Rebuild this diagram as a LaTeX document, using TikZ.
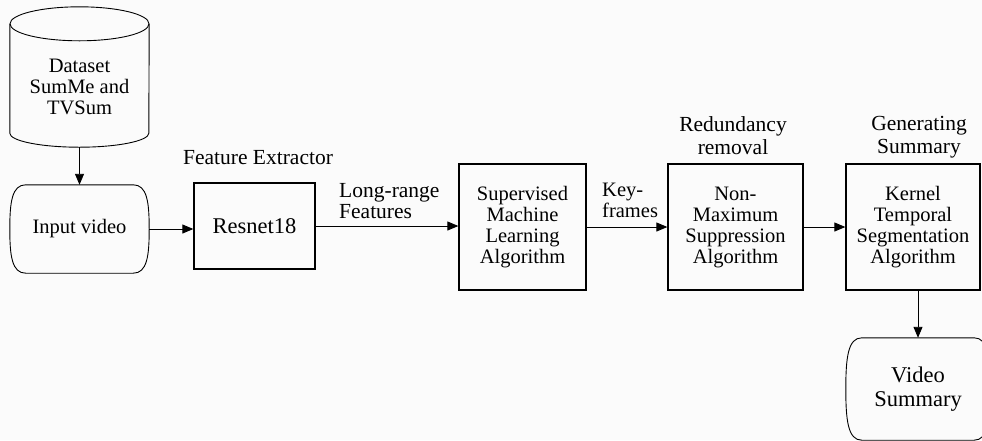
\documentclass[tikz,border=0pt]{standalone}
\usepackage{fontspec}
\setmainfont{Liberation Serif}
\usetikzlibrary{arrows.meta,calc}
\newcommand\termoutline[1]{\draw[outl]
  ([xshift=16pt]#1.north west) -- ([xshift=-16pt]#1.north east)
  .. controls ([xshift=-2pt]#1.north east) and ($(#1.east)!0.6!(#1.north east)$) .. (#1.east)
  .. controls ($(#1.east)!0.6!(#1.south east)$) and ([xshift=-2pt]#1.south east) .. ([xshift=-16pt]#1.south east)
  -- ([xshift=16pt]#1.south west)
  .. controls ([xshift=2pt]#1.south west) and ($(#1.west)!0.6!(#1.south west)$) .. (#1.west)
  .. controls ($(#1.west)!0.6!(#1.north west)$) and ([xshift=2pt]#1.north west) .. cycle;}
\begin{document}
\begin{tikzpicture}[x=1pt,y=-1pt,
  lbl/.style={font=\fontsize{20.5}{21}\selectfont, align=center, inner sep=0pt},
  boxn/.style={draw, line width=1.3pt, align=center, font=\fontsize{20.5}{21}\selectfont, inner sep=0pt},
  arr/.style={-{Triangle[length=11pt,width=9pt]}, line width=0.9pt},
  outl/.style={line width=0.9pt}]
\useasboundingbox (0,0) rectangle (982,440);
\fill[gray!3] (0,0) rectangle (982,440);
\clip (0,0) rectangle (982,440);

% dataset cylinder
\node[lbl, minimum width=139pt, minimum height=120pt] (ds) at (79.5,87) {Dataset\\SumMe and\\TVSum};
\draw[outl] ([yshift=3pt]ds.north) ellipse [x radius=69.5pt, y radius=17pt];
\draw[outl] ([yshift=3pt]ds.north west) -- ([yshift=14pt]ds.south west)
  arc[start angle=180, end angle=360, x radius=69.5pt, y radius=14pt]
  -- ([yshift=3pt]ds.north east);

% input video
\node[lbl, minimum width=139pt, minimum height=88pt] (iv) at (79.5,229) {Input video};
\termoutline{iv}

% resnet
\node[boxn, minimum width=121pt, minimum height=86pt, font=\fontsize{22.5}{24}\selectfont] (rn) at (254.5,226) {Resnet18};
\node[lbl, font=\fontsize{21.5}{22}\selectfont] (fe) at (258,158) {Feature Extractor};

% supervised
\node[boxn, minimum width=127pt, minimum height=126pt] (sml) at (522.5,227) {Supervised\\Machine\\Learning\\Algorithm};
\node[lbl, align=left, anchor=west, font=\fontsize{21.5}{21}\selectfont] (lrf) at (339,201) {Long-range\\Features};

% nms
\node[boxn, minimum width=135pt, minimum height=126pt] (nms) at (735.5,227) {Non-\\Maximum\\Suppression\\Algorithm};
\node[lbl, align=left, anchor=west] (kf) at (602,200) {Key-\\frames};
\node[lbl, font=\fontsize{21.5}{23}\selectfont] (rr) at (733,136) {Redundancy\\removal};

% kts
\node[boxn, minimum width=134pt, minimum height=126pt] (kts) at (913,227) {Kernel\\Temporal\\Segmentation\\Algorithm};
\node[lbl, font=\fontsize{21.5}{23}\selectfont] (gs) at (919,137) {Generating\\Summary};

% video summary
\node[lbl, minimum width=144pt, minimum height=102pt, font=\fontsize{22.5}{24}\selectfont] (vs) at (918,389) {Video\\Summary};
\termoutline{vs}

% connectors
\draw[arr] (ds.south) -- (iv.north);
\draw[arr] (iv.east) -- (rn.west |- iv.east);
\draw[arr] (rn.east) -- (sml.west |- rn.east);
\draw[arr] (sml.east) -- (nms.west);
\draw[arr] (nms.east) -- (kts.west);
\draw[arr] (kts.south -| vs.north) -- (vs.north);
\end{tikzpicture}
\end{document}
